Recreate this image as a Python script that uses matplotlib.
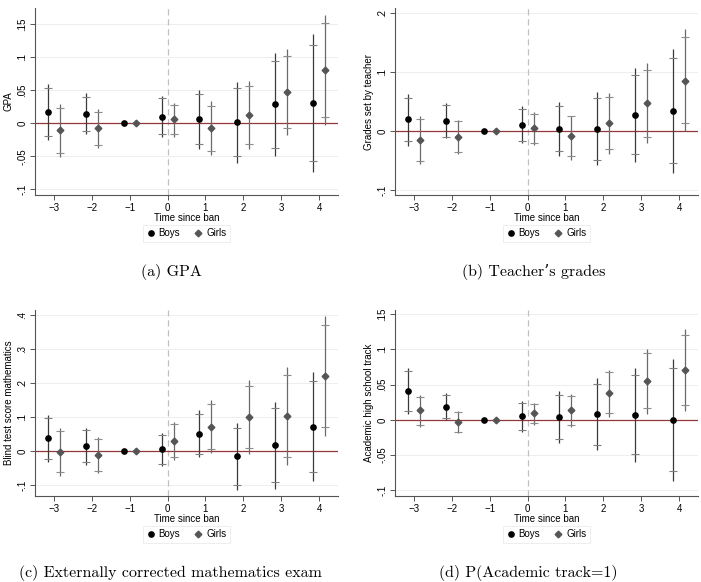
import numpy as np
import matplotlib.pyplot as plt
from matplotlib.lines import Line2D

nan = np.nan
periods = [-3, -2, -1, 0, 1, 2, 3, 4]

# (a) GPA
gpa_boys = [0.017, 0.0145, 0, 0.010, 0.0055, 0.001, 0.0285, 0.030]
gpa_boys_lo = [-0.026, -0.0165, nan, -0.0215, -0.039, -0.060, -0.0495, -0.074]
gpa_boys_hi = [0.059, 0.045, nan, 0.0415, 0.050, 0.0615, 0.1065, 0.134]
gpa_boys_lo90 = [-0.019, -0.0115, nan, -0.0165, -0.0315, -0.0495, -0.037, -0.0575]
gpa_boys_hi90 = [0.0525, 0.040, nan, 0.038, 0.0435, 0.0525, 0.094, 0.1185]
gpa_girls = [-0.011, -0.008, 0, 0.0065, -0.0075, 0.012, 0.047, 0.080]
gpa_girls_lo = [-0.051, -0.037, nan, -0.021, -0.0485, -0.0395, -0.018, -0.003]
gpa_girls_hi = [0.0285, 0.021, nan, 0.031, 0.033, 0.0635, 0.1125, 0.164]
gpa_girls_lo90 = [-0.0455, -0.033, nan, -0.017, -0.0425, -0.0315, -0.008, 0.009]
gpa_girls_hi90 = [0.0235, 0.017, nan, 0.027, 0.0265, 0.056, 0.102, 0.151]

# (b) teacher's grades
tch_boys = [0.020, 0.0176, 0, 0.0114, 0.0045, 0.004, 0.028, 0.035]
tch_boys_lo = [-0.0245, -0.012, nan, -0.020, -0.0415, -0.0574, -0.052, -0.071]
tch_boys_hi = [0.063, 0.048, nan, 0.0426, 0.050, 0.066, 0.107, 0.140]
tch_boys_lo90 = [-0.017, -0.009, nan, -0.016, -0.034, -0.048, -0.0386, -0.054]
tch_boys_hi90 = [0.057, 0.045, nan, 0.0386, 0.043, 0.056, 0.0955, 0.124]
tch_girls = [-0.0148, -0.0091, 0, 0.005, -0.008, 0.0136, 0.0477, 0.0858]
tch_girls_lo = [-0.0557, -0.0386, nan, -0.0227, -0.049, -0.0386, -0.0199, 0.0]
tch_girls_hi = [0.0267, 0.0193, nan, 0.033, 0.0267, 0.0653, 0.115, 0.1727]
tch_girls_lo90 = [-0.0506, -0.0352, nan, -0.0205, -0.0426, -0.0307, -0.009, 0.014]
tch_girls_hi90 = [0.021, 0.017, nan, 0.030, 0.026, 0.0574, 0.1045, 0.159]

# (c) blind math test
math_boys = [0.039, 0.0156, 0, 0.006, 0.0507, -0.0146, 0.0185, 0.073]
math_boys_lo = [-0.032, -0.039, nan, -0.042, -0.0175, -0.113, -0.111, -0.086]
math_boys_hi = [0.108, 0.070, nan, 0.0536, 0.121, 0.084, 0.146, 0.233]
math_boys_lo90 = [-0.022, -0.031, nan, -0.037, -0.009, -0.098, -0.091, -0.061]
math_boys_hi90 = [0.098, 0.0624, nan, 0.0487, 0.110, 0.069, 0.128, 0.2076]
math_girls = [-0.002, -0.0107, 0, 0.031, 0.073, 0.101, 0.104, 0.222]
math_girls_lo = [-0.072, -0.063, nan, -0.025, -0.004, -0.007, -0.039, 0.045]
math_girls_hi = [0.070, 0.041, nan, 0.086, 0.150, 0.2086, 0.2466, 0.398]
math_girls_lo90 = [-0.062, -0.0565, nan, -0.0166, 0.007, 0.0097, -0.0156, 0.073]
math_girls_hi90 = [0.060, 0.036, nan, 0.079, 0.139, 0.193, 0.225, 0.370]

# (d) academic track
trk_boys = [0.0417, 0.0185, 0, 0.0052, 0.0043, 0.008, 0.0076, 0.0]
trk_boys_lo = [0.008, 0.0, nan, -0.0166, -0.033, -0.0426, -0.060, -0.0866]
trk_boys_hi = [0.0743, 0.038, nan, 0.027, 0.041, 0.059, 0.0743, 0.086]
trk_boys_lo90 = [0.0133, 0.002, nan, -0.014, -0.027, -0.035, -0.049, -0.073]
trk_boys_hi90 = [0.070, 0.0355, nan, 0.0246, 0.035, 0.051, 0.0634, 0.073]
trk_girls = [0.0137, -0.0028, 0, 0.0095, 0.0142, 0.038, 0.0554, 0.071]
trk_girls_lo = [-0.0104, -0.019, nan, -0.007, -0.0104, 0.0038, 0.009, 0.0128]
trk_girls_hi = [0.035, 0.0123, nan, 0.0246, 0.0365, 0.0715, 0.101, 0.1288]
trk_girls_lo90 = [-0.0066, -0.017, nan, -0.005, -0.0076, 0.0095, 0.0166, 0.0218]
trk_girls_hi90 = [0.033, 0.011, nan, 0.023, 0.0346, 0.0677, 0.0947, 0.120]

plt.rcParams['font.family'] = ['Liberation Sans', 'DejaVu Sans']
FS = 7.0


def ylab(v):
    s = f"{v:g}"
    return s.replace("0.", ".") if s != "0" else s


def draw_group(ax, x, est, lo, hi, lo90, hi90, color, dotcol, tickcol, marker, ms):
    ax.vlines(x, lo, hi, color=color, lw=0.9, zorder=2)
    ax.plot(x, lo90, '_', color=tickcol, ms=6, mew=0.8, ls='none', zorder=3)
    ax.plot(x, hi90, '_', color=tickcol, ms=6, mew=0.8, ls='none', zorder=3)
    ax.plot(x, est, marker, color=dotcol, ms=ms, ls='none', zorder=4)


def draw_panel(ax, boys, girls, ylabel, yticks, ylim, caption, cap_x, cap_y):
    x = np.array(periods, dtype=float)
    for yt in yticks:
        ax.axhline(yt, color='#eeeeee', lw=0.7, zorder=0)
    ax.axvline(0, color='#c0c0c0', lw=0.9, ls=(0, (5, 3)), zorder=1)
    ax.axhline(0, color='#93373b', lw=0.9, zorder=1)
    draw_group(ax, x - 0.16, *boys, color='#3a3a3a', dotcol='black', tickcol='#808080',
               marker='o', ms=3.8)
    draw_group(ax, x + 0.16, *girls, color='#6a6a6a', dotcol='#555555', tickcol='#8c8c8c',
               marker='D', ms=3.4)
    ax.set_xlim(-3.5, 4.5)
    ax.set_ylim(*ylim)
    ax.set_xticks(periods)
    ax.set_yticks(yticks)
    ax.set_yticklabels([ylab(v) for v in yticks], rotation=90, va='center')
    ax.tick_params(labelsize=FS, length=3.5, width=0.7, color='#555555', pad=2)
    ax.set_ylabel(ylabel, fontsize=FS)
    ax.yaxis.set_label_coords(-0.07, 0.5)
    ax.set_xlabel("Time since ban", fontsize=FS, labelpad=0)
    for side in ['top', 'right']:
        ax.spines[side].set_visible(False)
    for side in ['left', 'bottom']:
        ax.spines[side].set_color('#555555')
        ax.spines[side].set_linewidth(0.8)
    handles = [Line2D([], [], marker='o', color='black', ls='none', ms=3.8),
               Line2D([], [], marker='D', color='#555555', ls='none', ms=3.4)]
    leg = ax.legend(handles, ['Boys', 'Girls'], loc='center', bbox_to_anchor=(0.5, -0.205),
                    ncol=2, fontsize=FS, frameon=True, fancybox=False, handlelength=0.8,
                    handletextpad=0.4, columnspacing=1.5, borderpad=0.35)
    leg.get_frame().set_edgecolor('#e6e6e6')
    leg.get_frame().set_linewidth(0.6)
    fig.text(cap_x / 701, 1 - cap_y / 582, caption, fontsize=11.5,
             family=['cmr10', 'DejaVu Serif'], ha='center', va='center')


fig = plt.figure(figsize=(7.01, 5.82), dpi=100)
ax_a = fig.add_axes([35 / 701, 1 - 195 / 582, 303 / 701, 187 / 582])
ax_b = fig.add_axes([395 / 701, 1 - 195 / 582, 303 / 701, 187 / 582])
ax_c = fig.add_axes([35 / 701, 1 - 496 / 582, 303 / 701, 186 / 582])
ax_d = fig.add_axes([395 / 701, 1 - 496 / 582, 303 / 701, 186 / 582])

draw_panel(ax_a,
           (gpa_boys, gpa_boys_lo, gpa_boys_hi, gpa_boys_lo90, gpa_boys_hi90),
           (gpa_girls, gpa_girls_lo, gpa_girls_hi, gpa_girls_lo90, gpa_girls_hi90),
           "GPA", [-0.1, -0.05, 0, 0.05, 0.1, 0.15], (-0.1086, 0.174),
           "(a) GPA", 171, 272)
draw_panel(ax_b,
           (tch_boys, tch_boys_lo, tch_boys_hi, tch_boys_lo90, tch_boys_hi90),
           (tch_girls, tch_girls_lo, tch_girls_hi, tch_girls_lo90, tch_girls_hi90),
           "Grades set by teacher", [-0.1, 0, 0.1, 0.2], (-0.108, 0.209),
           "(b) Teacher\u2019s grades", 534, 272)
draw_panel(ax_c,
           (math_boys, math_boys_lo, math_boys_hi, math_boys_lo90, math_boys_hi90),
           (math_girls, math_girls_lo, math_girls_hi, math_girls_lo90, math_girls_hi90),
           "Blind test score mathematics", [-0.1, 0, 0.1, 0.2, 0.3, 0.4], (-0.131, 0.415),
           "(c) Externally corrected mathematics exam", 170, 573)
draw_panel(ax_d,
           (trk_boys, trk_boys_lo, trk_boys_hi, trk_boys_lo90, trk_boys_hi90),
           (trk_girls, trk_girls_lo, trk_girls_hi, trk_girls_lo90, trk_girls_hi90),
           "Academic high school track", [-0.1, -0.05, 0, 0.05, 0.1, 0.15], (-0.108, 0.156),
           "(d) P(Academic track=1)", 528, 573)

fig.savefig("out.png", dpi=100)
